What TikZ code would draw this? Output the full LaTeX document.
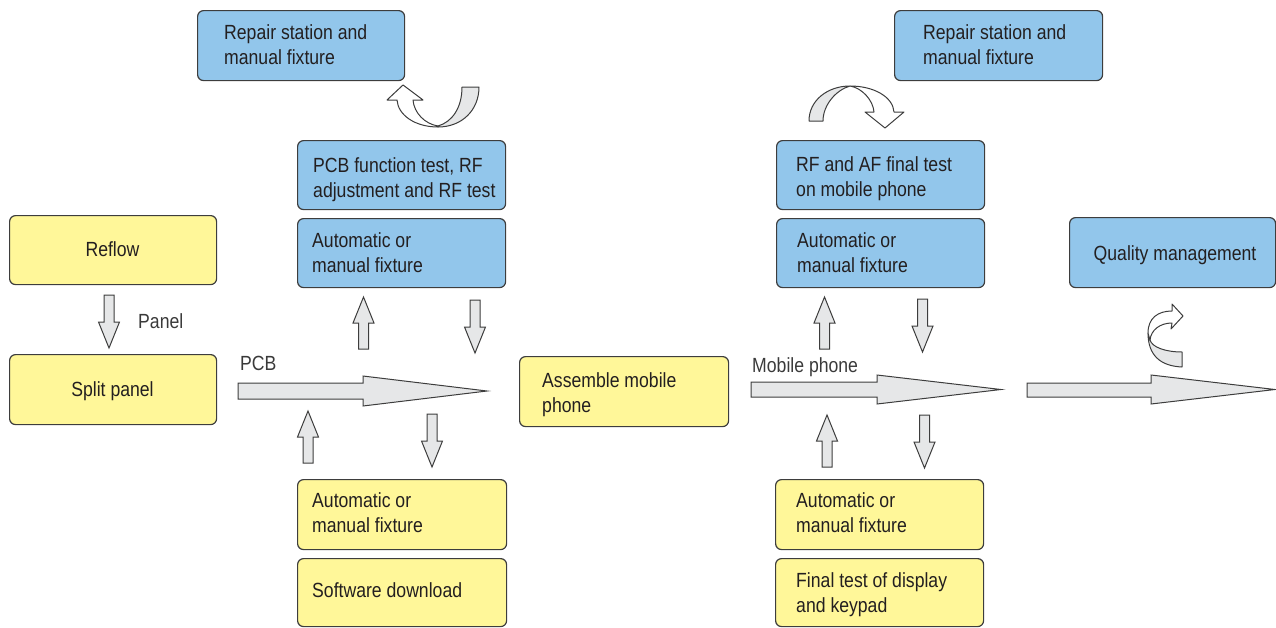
\documentclass[tikz,border=0pt]{standalone}
\usepackage{fontspec}
\setmainfont[FakeStretch=0.86]{Liberation Sans}
\definecolor{bfill}{HTML}{92C6EB}
\definecolor{yfill}{HTML}{FFF799}
\definecolor{bord}{HTML}{3D3D3D}
\definecolor{afill}{HTML}{E6E7E8}
\definecolor{tcol}{HTML}{231F20}
\definecolor{lblgray}{HTML}{3A3A3A}
\newcommand\TwoL[2]{\vtop{\hbox{#1}\hbox{#2}}}
\newcommand\UpBlk[2]{\draw[blk] (#1,#2) -- ++(10.5,26) -- ++(-5.5,0) -- ++(0,26) -- ++(-10,0) -- ++(0,-26) -- ++(-5.5,0) -- cycle;}
\newcommand\DnBlk[2]{\draw[blk] (#1,#2) ++(-5,0) -- ++(10,0) -- ++(0,27) -- ++(5.5,0) -- ++(-10.5,26) -- ++(-10.5,-26) -- ++(5.5,0) -- cycle;}
\tikzset{
  boxbase/.style={draw=bord, line width=1.2pt, rounded corners=6pt, anchor=north west, inner sep=0pt},
  bluebox/.style={boxbase, fill=bfill},
  yellbox/.style={boxbase, fill=yfill},
  txt/.style={text=tcol, font=\fontsize{20.5}{25}\selectfont, inner sep=0pt, anchor=base west},
  lbl/.style={txt, text=lblgray},
  blk/.style={draw=bord, fill=afill, line width=1pt, line join=miter},
  wblk/.style={draw=bord, fill=white, line width=1pt, line join=round},
}
\begin{document}
\begin{tikzpicture}[x=1pt,y=-1pt]
\useasboundingbox (0,0) rectangle (1276,627);

% ---------- boxes ----------
\node[bluebox, minimum width=207pt, minimum height=70pt] (rep1) at (197,10) {};
\node[bluebox, minimum width=208pt, minimum height=69pt] (pcb) at (297,140) {};
\node[bluebox, minimum width=208pt, minimum height=69pt] (auto1) at (297,218) {};
\node[yellbox, minimum width=207pt, minimum height=69pt] (reflow) at (9,215) {};
\node[yellbox, minimum width=207pt, minimum height=70pt] (split) at (9,354) {};
\node[yellbox, minimum width=209pt, minimum height=70pt] (auto2) at (297,479) {};
\node[yellbox, minimum width=209pt, minimum height=68pt] (sw) at (297,558) {};
\node[yellbox, minimum width=209pt, minimum height=70pt] (asm) at (519,356) {};
\node[bluebox, minimum width=208pt, minimum height=70pt] (rep2) at (894,10) {};
\node[bluebox, minimum width=208pt, minimum height=69pt] (rfaf) at (776,140) {};
\node[bluebox, minimum width=208pt, minimum height=69pt] (auto3) at (776,218) {};
\node[yellbox, minimum width=208pt, minimum height=70pt] (auto4) at (775,479) {};
\node[yellbox, minimum width=208pt, minimum height=68pt] (final) at (775,558) {};
\node[bluebox, minimum width=206pt, minimum height=70pt] (qm) at (1069,217) {};

% ---------- texts ----------
\node[txt] (rep1t) at (224,39) {\TwoL{Repair station and}{manual fixture}};
\node[txt] (pcbt) at (313,172) {\TwoL{PCB function test, RF}{adjustment and RF test}};
\node[txt] (auto1t) at (312,247) {\TwoL{Automatic or}{manual fixture}};
\node[txt, anchor=base] (reflowt) at (112.5,256) {Reflow};
\node[txt, anchor=base] (splitt) at (112.5,396) {Split panel};
\node[txt] (auto2t) at (312,507) {\TwoL{Automatic or}{manual fixture}};
\node[txt] (swt) at (312,597) {Software download};
\node[txt] (asmt) at (542,387) {\TwoL{Assemble mobile}{phone}};
\node[txt] (rep2t) at (923,39) {\TwoL{Repair station and}{manual fixture}};
\node[txt] (rfaft) at (796,171) {\TwoL{RF and AF final test}{on mobile phone}};
\node[txt] (auto3t) at (797,247) {\TwoL{Automatic or}{manual fixture}};
\node[txt] (auto4t) at (796,507) {\TwoL{Automatic or}{manual fixture}};
\node[txt] (finalt) at (796,587) {\TwoL{Final test of display}{and keypad}};
\node[txt, anchor=base] (qmt) at (1175,260) {Quality management};

\node[lbl] (panel) at (138,328) {Panel};
\node[lbl] (pcblbl) at (240,370) {PCB};
\node[lbl] (moblbl) at (752,372) {Mobile phone};

% ---------- horizontal block arrows ----------
\draw[blk] (238,383) -- (363,383) -- (363,376) -- (487,391) -- (363,406) -- (363,399) -- (238,399) -- cycle;
\draw[blk] (751,382) -- (877,382) -- (877,375) -- (1001,389.5) -- (877,404) -- (877,397) -- (751,397) -- cycle;
\draw[blk] (1027,383) -- (1151,383) -- (1151,375) -- (1275,389.5) -- (1151,404) -- (1151,397) -- (1027,397) -- cycle;

% ---------- vertical block arrows ----------
\DnBlk{109}{295}
\UpBlk{363.5}{297}
\DnBlk{475}{300}
\UpBlk{308}{411}
\DnBlk{432}{414}
\UpBlk{824.5}{297}
\DnBlk{922.5}{299}
\UpBlk{827}{415}
\DnBlk{924.5}{415}

% ---------- curved arrows ----------
% left repair loop
\draw[blk, line join=round] (438,127) .. controls (462,127) and (479,110) .. (479,87) -- (462,87)
  .. controls (462,108) and (452,122) .. (438,126) -- cycle;
\draw[wblk] (438,127) .. controls (415,127) and (398,115) .. (397,100) -- (387,100) -- (403,85) -- (423,100) -- (413,100)
  .. controls (414,113) and (425,124) .. (438,126) -- cycle;
% right repair loop
\draw[blk, line join=round] (809,121) .. controls (809,100) and (828,86) .. (850,86)
  .. controls (836,90) and (823,105) .. (823,121) -- cycle;
\draw[wblk] (850,86) .. controls (874,86) and (893,97) .. (894,112) -- (904,112) -- (885,128) -- (865,112) -- (874,112)
  .. controls (873,100) and (862,88) .. (850,86) -- cycle;
% quality loop
\draw[blk, line join=round] (1148,333) .. controls (1148,355) and (1160,366) .. (1182,367) -- (1182,352)
  .. controls (1165,352) and (1152,347) .. (1150,340) -- cycle;
\draw[wblk] (1148,333) .. controls (1148,318) and (1158,311) .. (1172,311) -- (1172,304) -- (1183,316) -- (1171,329) -- (1172,323)
  .. controls (1160,323) and (1151,330) .. (1150,340) -- cycle;
\end{tikzpicture}
\end{document}
